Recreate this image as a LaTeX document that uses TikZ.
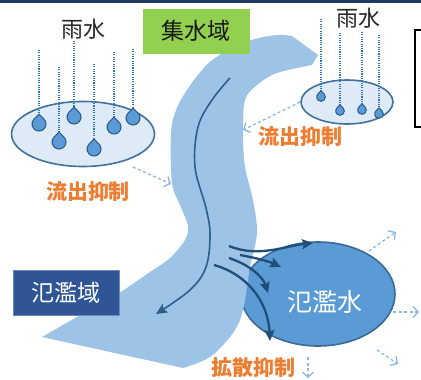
\documentclass[tikz,border=0pt]{standalone}
\usepackage{fontspec}
\newfontfamily\jp{Noto Sans CJK JP}
\usetikzlibrary{arrows.meta,shapes.geometric}

\definecolor{navy}{HTML}{1F3864}
\definecolor{riverblue}{HTML}{9DC3E6}
\definecolor{basinfill}{HTML}{DEEBF7}
\definecolor{basinline}{HTML}{41719C}
\definecolor{dropfill}{HTML}{5B9BD5}
\definecolor{dropline}{HTML}{2F5E8E}
\definecolor{rainblue}{HTML}{2E75B6}
\definecolor{floodfill}{HTML}{5B9BD5}
\definecolor{floodline}{HTML}{3A6A98}
\definecolor{areablue}{HTML}{2F5597}
\definecolor{leafgreen}{HTML}{92D050}
\definecolor{warnorange}{HTML}{ED7D31}
\definecolor{spreadblue}{HTML}{8DB8E2}
\definecolor{flowdark}{HTML}{1F4E79}
\definecolor{channel}{HTML}{2E5F8A}

\tikzset{
  basin/.style={ellipse, draw=basinline, fill=basinfill, line width=1.6pt, inner sep=0pt},
  rain/.style={draw=rainblue, line width=1.6pt, dash pattern=on 1.1pt off 1.2pt},
  pics/drop/.style={code={
    \filldraw[fill=dropfill, draw=dropline, line width=1.1pt]
      (0,-1.4*#1) -- (-45.6:#1) arc[start angle=-45.6, end angle=225.6, radius=#1] -- cycle;}},
  caption/.style={font=\jp\fontsize{22}{26}\selectfont, text=black!85, inner sep=0pt},
  warn/.style={font=\jp\bfseries\fontsize{21}{25}\selectfont, text=warnorange, inner sep=0pt},
  spread/.style={draw=spreadblue, line width=1.3pt, dash pattern=on 3pt off 2.5pt,
    -{Straight Barb[length=5pt,width=11pt,line width=1.3pt]}},
  surge/.style={draw=flowdark, line width=2.3pt, -{Stealth[length=11pt,width=10pt,inset=2pt]}},
}

\begin{document}
\begin{tikzpicture}[x=1pt,y=-1pt]
\useasboundingbox (0,0) rectangle (421,380);
\clip (0,0) rectangle (421,380);

% top rule
\fill[navy] (0,0) rectangle (421,3.2);

% rain over the left catchment
\node[basin, minimum width=143, minimum height=65] (basinL) at (83,134) {};
\foreach \x/\top/\y in {39/50/124, 59/67/142, 74/41/117, 94/64/149, 114/52/127, 133/49/118}{
  \draw[rain] (\x,\top) -- (\x,\y-9);
  \pic at (\x,\y) {drop=7};
}
\node[caption] (rainL) at (83,29) {雨水};

% rain over the right catchment
\node[basin, minimum width=92, minimum height=44] (basinR) at (347,102) {};
\foreach \x/\top/\y in {321/19/97, 340/33/111, 362/32/110, 379/35/114}{
  \draw[rain] (\x,\top) -- (\x,\y-5);
  \pic at (\x,\y) {drop=4.3};
}
\node[caption] (rainR) at (358,18) {雨水};

% flooded area
\node[ellipse, fill=floodfill, draw=floodline, line width=1.6pt,
      minimum width=154, minimum height=104, inner sep=0pt] (flood) at (318,294) {};

% river band
\fill[riverblue] (318,55)
  -- plot[smooth, tension=0.55] coordinates {(312,65) (277,73) (257,85) (245,100) (243,133)
       (245,167) (253,200) (257,233) (250,267) (243,310) (233,333) (210,357) (183,368)}
  -- (42,337)
  -- plot[smooth, tension=0.55] coordinates {(42,337) (77,317) (113,297) (150,272) (170,258)
       (185,240) (188,226) (180,205) (172,183) (171,133) (176,110) (185,93) (197,76) (211,61)
       (232,48) (255,39) (277,35) (292,36)}
  -- cycle;

% main channel
\draw[channel, line width=1.6pt, -{Stealth[length=11pt,width=10pt,inset=2pt]}]
  plot[smooth, tension=0.6] coordinates {(230,78) (212,100) (198,127) (195,167) (206,208)
       (210,235) (206,267) (190,290) (156,314)};

\node[font=\jp\fontsize{25}{28}\selectfont, text=white] (floodtxt) at (325,302) {氾濫水};

% overflow from the channel into the flooded area
\coordinate (o1) at (229,246);
\coordinate (o2) at (240,255);
\coordinate (o3) at (229,258);
\coordinate (o4) at (214,265);
\draw[surge] (o1) .. controls (258,258) and (285,246) .. (313,243);
\draw[surge] (o2) .. controls (256,258) and (268,261) .. (281,267);
\draw[surge] (o3) .. controls (250,265) and (263,277) .. (268,293);
\draw[surge] (o4) .. controls (246,274) and (268,300) .. (270,341);

% labels
\node[fill=leafgreen, minimum width=107, minimum height=45, inner sep=0pt,
      font=\jp\fontsize{23}{26}\selectfont, text=black!90] (catch) at (196,31) {集水域};
\node[fill=areablue, draw=areablue!70!white, line width=0.8pt, minimum width=106, minimum height=45,
      inner sep=0pt, font=\jp\fontsize{23}{26}\selectfont, text=white] (plain) at (66,293) {氾濫域};
\node[warn] (warnL) at (88,192) {流出抑制};
\node[warn] (warnR) at (300,137) {流出抑制};
\node[warn] (warnF) at (253,368) {拡散抑制};

% side panel edge
\draw[black, line width=1.5pt] (415,30) rectangle (440,127);

% outflow suppression arrows
\coordinate (sL0) at (133,167);
\coordinate (sL1) at (171,184);
\draw[spread] (sL0) -- (sL1);
\coordinate (sR1) at (243,130);
\draw[spread] (basinR.west) -- (sR1);

% spreading arrows around the flooded area
\coordinate (f1) at (396,232);
\coordinate (f2) at (419,312);
\coordinate (f3) at (398,364);
\coordinate (f4) at (308,378);
\draw[spread] (flood.40) ++(2,-2) -- (f1);
\draw[spread] (393,312) -- (f2);
\draw[spread] (377,350) -- (f3);
\draw[spread] (308,357) -- (f4);
\end{tikzpicture}
\end{document}
